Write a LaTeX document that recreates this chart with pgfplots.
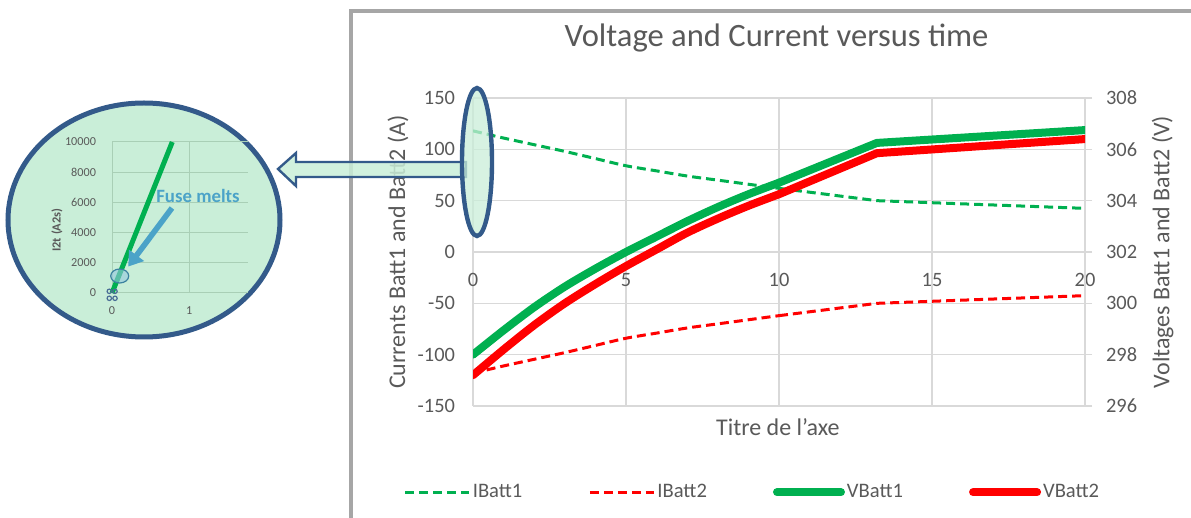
\documentclass[border=0pt]{standalone}
\usepackage{fontspec}
\setmainfont{Carlito}
\usepackage{pgfplots}
\usepackage{pgfplotstable}
\pgfplotsset{compat=1.18}
\usetikzlibrary{arrows.meta}

\definecolor{cgreen}{HTML}{00B050}
\definecolor{cred}{HTML}{FF0000}
\definecolor{ctext}{HTML}{595959}
\definecolor{cgrid}{HTML}{D9D9D9}
\definecolor{cframe}{HTML}{A6A6A6}
\definecolor{cnavy}{HTML}{335A8A}
\definecolor{cmint}{HTML}{C9EED8}
\definecolor{cigrid}{HTML}{A9CFB6}
\definecolor{csteel}{HTML}{4BA3C8}
\definecolor{cmark}{HTML}{4A6E96}

% time, currents (A), voltages (V)
\pgfplotstableread{
t     IB1    IB2     VB1     VB2
0     118   -118     298.0   297.2
1     111   -111     298.95  298.2
2     104.5 -104.5   299.85  299.15
3     98    -98      300.65  300.0
4     91    -91      301.35  300.75
5     84    -84      302.0   301.45
6     79    -79      302.6   302.1
7     74    -74      303.2   302.75
8     70    -70      303.75  303.3
9     66    -66      304.25  303.8
10    62    -62      304.7   304.25
13.2  50    -50      306.25  305.85
20    42.5  -42.5    306.75  306.4
}\batt

\pgfplotsset{
  idash/.style={line width=1.5pt, dash pattern=on 4.5pt off 2.5pt},
  vthick/.style={line width=4pt, line join=round, line cap=round},
}

\begin{document}
\begin{tikzpicture}
\useasboundingbox (0,0) rectangle (595.5pt,-259pt);

% chart frame
\begin{scope}[x=0.5pt,y=-0.5pt]
\draw[cframe, line width=2pt] (351,540) -- (351,11) -- (1210,11);
\end{scope}

% currents
\begin{axis}[
  at={(236.5pt,-203pt)}, anchor=south west,
  scale only axis, width=306pt, height=154pt,
  xmin=0, xmax=20, ymin=-150, ymax=150,
  xtick={0,5,...,20}, ytick={-150,-100,...,150},
  grid=major, grid style={cgrid, line width=0.7pt},
  axis line style={draw=none},
  major tick length=0pt,
  xtick pos=bottom, ytick pos=left,
  tick label style={font=\fontsize{10.2}{12}\selectfont, text=ctext},
  /pgf/number format/assume math mode=true,
  xticklabel style={yshift=70pt},
  yticklabel style={xshift=-5.5pt},
  title={Voltage and Current versus time},
  title style={at={(axis description cs:0.496,1.156)}, anchor=center,
    font=\fontsize{16.3}{19}\selectfont, text=ctext},
  xlabel={Titre de l'axe},
  xlabel style={at={(axis description cs:0.498,-0.068)}, anchor=center,
    font=\fontsize{12}{14}\selectfont, text=ctext},
  ylabel={Currents Batt1 and Batt2 (A)},
  every axis y label/.style={at={(axis description cs:-0.1225,0.5)},
    rotate=90, anchor=center, font=\fontsize{12}{14}\selectfont, text=ctext},
]
\addplot[cgreen, idash, smooth, restrict x to domain=0:10] table[x=t, y=IB1] {\batt};
\addplot[cgreen, idash, restrict x to domain=10:20] table[x=t, y=IB1] {\batt};
\addplot[cred, idash, smooth, restrict x to domain=0:10] table[x=t, y=IB2] {\batt};
\addplot[cred, idash, restrict x to domain=10:20] table[x=t, y=IB2] {\batt};
\end{axis}

% voltages
\begin{axis}[
  at={(236.5pt,-203pt)}, anchor=south west,
  scale only axis, width=306pt, height=154pt,
  xmin=0, xmax=20, ymin=296, ymax=308,
  ytick={296,298,...,308},
  axis x line=none, axis y line=right, ytick pos=right,
  axis line style={cgrid, line width=0.7pt, -},
  tick align=outside, major tick length=3.5pt,
  tick style={cgrid, line width=0.7pt},
  tick label style={font=\fontsize{10.2}{12}\selectfont, text=ctext},
  /pgf/number format/assume math mode=true,
  yticklabel style={xshift=3.5pt},
  ylabel={Voltages Batt1 and Batt2 (V)},
  every axis y label/.style={at={(axis description cs:1.127,0.5)},
    rotate=90, anchor=center, font=\fontsize{12}{14}\selectfont, text=ctext},
  legend columns=4,
  legend image code/.code={\draw[#1] (0pt,0pt) -- (32pt,0pt);},
  legend style={at={(axis description cs:0.4567,-0.28)}, anchor=center,
    draw=none, fill=none, font=\fontsize{10.3}{12}\selectfont, text=ctext,
    nodes={inner sep=1pt},
    /tikz/every even column/.append style={column sep=32pt}},
]
\addlegendimage{cgreen, idash}
\addlegendentry{IBatt1}
\addlegendimage{cred, idash}
\addlegendentry{IBatt2}
\addlegendimage{cgreen, vthick}
\addlegendentry{VBatt1}
\addlegendimage{cred, vthick}
\addlegendentry{VBatt2}
\addplot[cgreen, vthick, smooth, restrict x to domain=0:10, forget plot] table[x=t, y=VB1] {\batt};
\addplot[cgreen, vthick, restrict x to domain=10:20, forget plot] table[x=t, y=VB1] {\batt};
\addplot[cred, vthick, smooth, restrict x to domain=0:10, forget plot] table[x=t, y=VB2] {\batt};
\addplot[cred, vthick, restrict x to domain=10:20, forget plot] table[x=t, y=VB2] {\batt};
\end{axis}

% callout shapes
\begin{scope}[x=0.5pt,y=-0.5pt]
\draw[cnavy, line width=2.5pt, fill=cmint] (144,220) ellipse [x radius=136, y radius=117];
\draw[cnavy, line width=1.2pt, fill=cmint, fill opacity=0.85]
  (278,169) -- (296,153) -- (296,162) -- (466,162) -- (466,177)
  -- (296,177) -- (296,186) -- cycle;
\draw[cnavy, line width=2.2pt, fill=cmint, fill opacity=0.75] (477,162) ellipse [x radius=15, y radius=74];
\end{scope}

% zoomed I2t inset
\begin{axis}[
  at={(56pt,-146.5pt)}, anchor=south west,
  scale only axis, width=68pt, height=75.5pt,
  xmin=0, xmax=1.76, ymin=0, ymax=10000,
  xtick={0,1}, ytick={0,2000,...,10000},
  grid=major, grid style={cigrid, line width=0.5pt},
  axis line style={draw=none}, major tick length=0pt,
  xtick pos=bottom, ytick pos=left,
  tick label style={font=\fontsize{6.1}{7}\selectfont, text=ctext},
  /pgf/number format/assume math mode=true,
  scaled y ticks=false,
  yticklabel style={/pgf/number format/1000 sep={}, xshift=-4.5pt},
  xticklabel style={yshift=-3.5pt},
  ylabel={\bfseries I2t (A2s)},
  every axis y label/.style={at={(axis description cs:-0.404,0.417)},
    rotate=90, anchor=center, font=\fontsize{6.2}{7}\selectfont, text=ctext},
  clip=false,
]
\addplot[cgreen, line width=2.5pt] coordinates {(0,0) (0.78,10000)};
\addplot[only marks, mark=o, mark size=1.1pt, cmark, line width=0.6pt]
  coordinates {(-0.035,113) (0.039,113) (-0.035,-351) (0.039,-351)};
\draw[csteel!80!black, line width=0.6pt, fill=csteel!60, fill opacity=0.6]
  (axis cs:0.1,1126) ellipse [x radius=4.5pt, y radius=3.5pt];
\draw[csteel, line width=2.8pt, -{Triangle[length=7pt,width=9pt]}]
  (axis cs:0.776,5629) -- (axis cs:0.21,1750);
\node[csteel, font=\bfseries\fontsize{9.4}{11}\selectfont]
  at (axis cs:1.113,6424) {Fuse melts};
\end{axis}
\end{tikzpicture}
\end{document}
